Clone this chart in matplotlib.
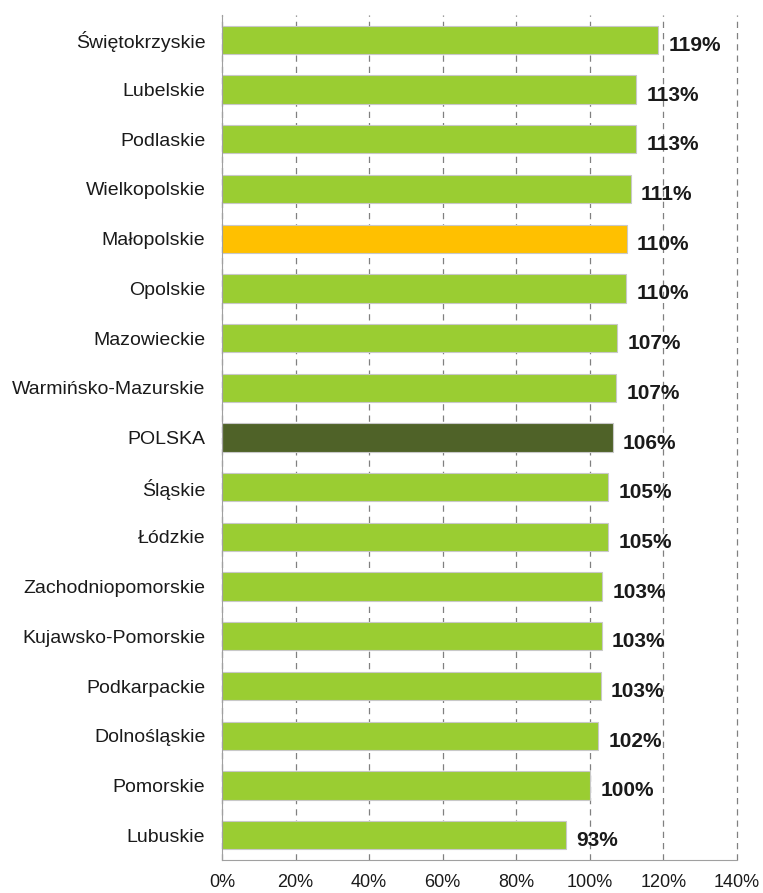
import matplotlib
matplotlib.use("Agg")
import matplotlib.pyplot as plt
from matplotlib.ticker import FuncFormatter, MultipleLocator

categories = ["Świętokrzyskie", "Lubelskie", "Podlaskie", "Wielkopolskie", "Małopolskie",
              "Opolskie", "Mazowieckie", "Warmińsko-Mazurskie", "POLSKA", "Śląskie",
              "Łódzkie", "Zachodniopomorskie", "Kujawsko-Pomorskie", "Podkarpackie",
              "Dolnośląskie", "Pomorskie", "Lubuskie"]
values = [118.6, 112.5, 112.5, 111.1, 110.0, 109.8, 107.4, 107.1, 106.2, 104.9,
          104.9, 103.4, 103.2, 102.9, 102.2, 100.0, 93.4]
labels = ["119%", "113%", "113%", "111%", "110%", "110%", "107%", "107%", "106%",
          "105%", "105%", "103%", "103%", "103%", "102%", "100%", "93%"]
highlight = {"Małopolskie": "#FFC000", "POLSKA": "#4F6228"}
base_color = "#9ACD32"

plt.rcParams['font.family'] = ['Liberation Sans', 'DejaVu Sans']

fig = plt.figure(figsize=(7.63, 8.93), dpi=100)
ax = fig.add_axes([222/763, 1 - 860/893, (737-222)/763, (860-15)/893])

n = len(categories)
ypos = list(range(n))[::-1]
colors = [highlight.get(c, base_color) for c in categories]
ax.barh(ypos, values, height=0.57, color=colors, edgecolor="#C8C8C8", linewidth=0.8, zorder=3)

for y, v, lab in zip(ypos, values, labels):
    ax.annotate(lab, (v, y), xytext=(7.5, -4), textcoords="offset points",
                ha="left", va="center", fontsize=15, fontweight="bold", color="#1a1a1a", zorder=4)

ax.set_xlim(0, 140)
ax.set_ylim(-0.5, n - 0.5)
ax.xaxis.set_major_locator(MultipleLocator(20))
ax.xaxis.set_major_formatter(FuncFormatter(lambda x, p: f"{int(round(x))}%"))
ax.set_yticks(ypos)
ax.set_yticklabels(categories, fontsize=14, color="#1a1a1a")
ax.tick_params(axis="x", labelsize=13, length=0, pad=10, colors="#1a1a1a")
ax.tick_params(axis="y", length=0, pad=12)

ax.grid(axis="x", color="#808080", linestyle=(0, (5, 4)), linewidth=0.9, zorder=0)
for gl in ax.get_xgridlines():
    gl.set_clip_on(False)
for s in ["top", "right"]:
    ax.spines[s].set_visible(False)
ax.spines["left"].set_color("#A0A0A0")
ax.spines["bottom"].set_color("#A0A0A0")
ax.spines["left"].set_zorder(5)

fig.savefig("out.png", dpi=100)
